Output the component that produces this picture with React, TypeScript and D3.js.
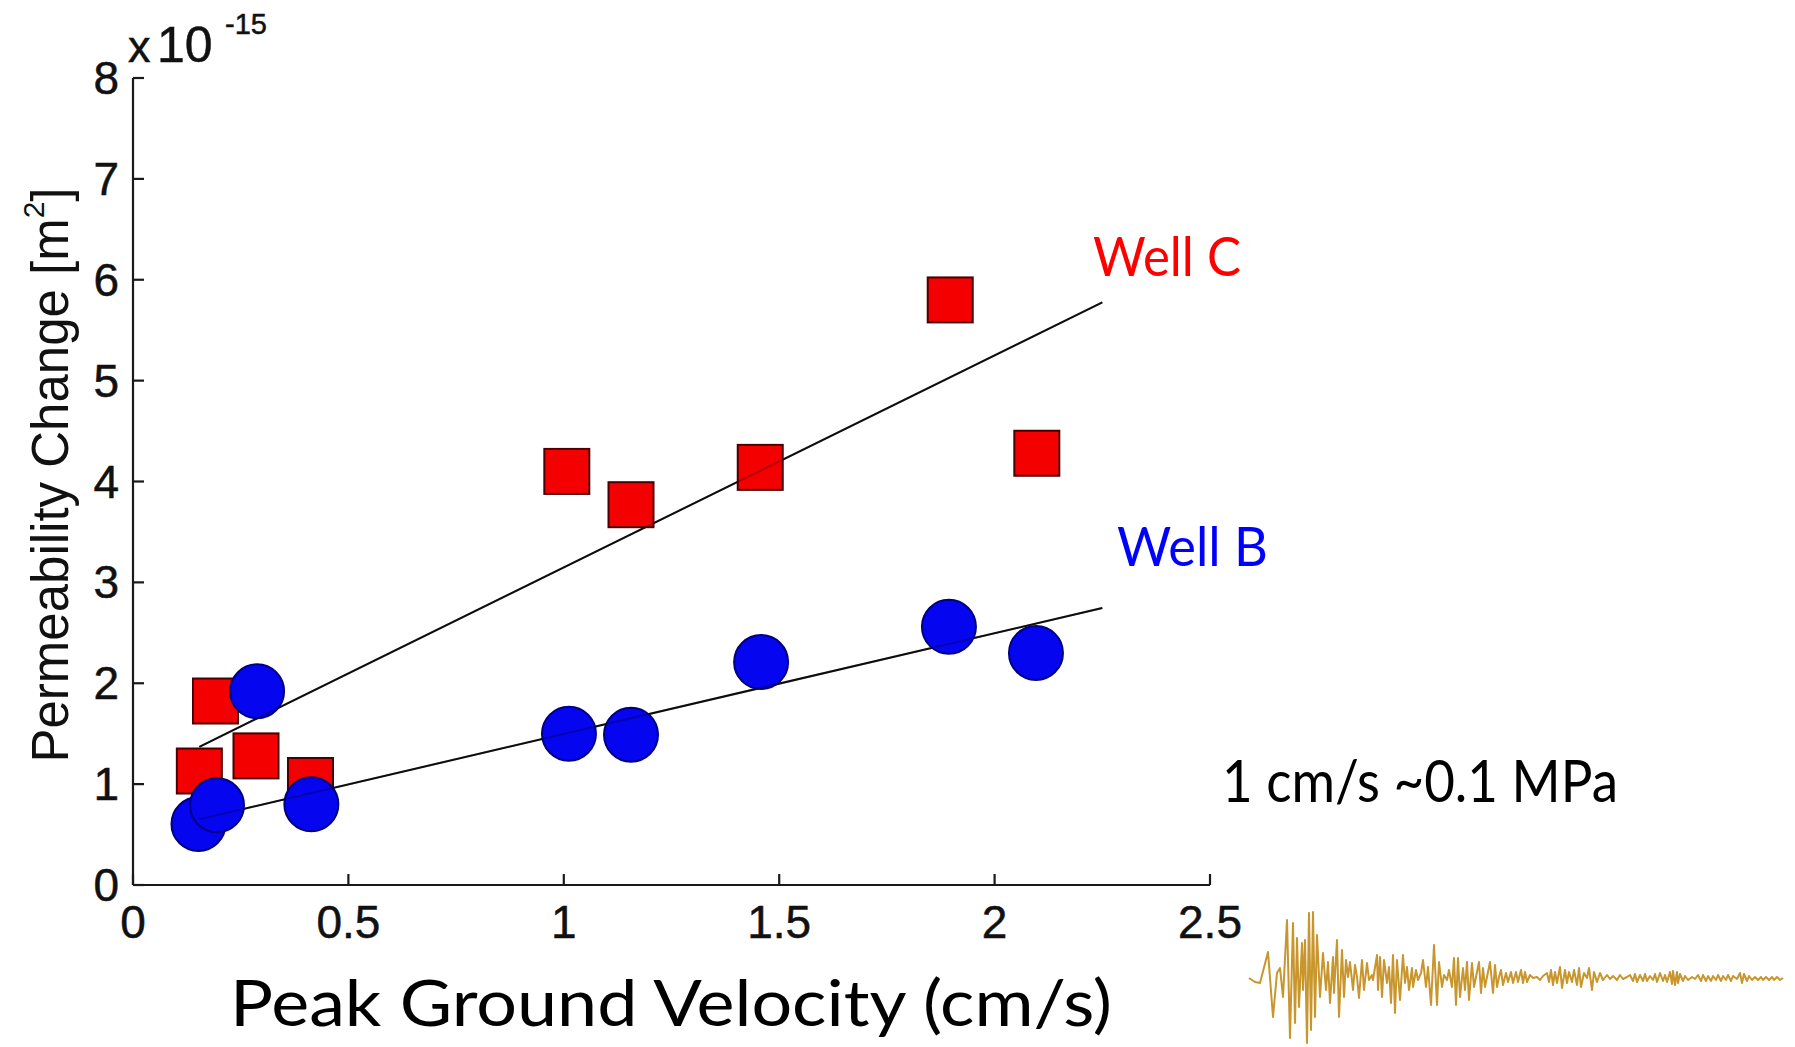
import React from 'react';
import * as d3 from 'd3';

const W = 1795;
const H = 1047;

// Peak ground velocity (cm/s) vs. permeability change (x 1e-15 m^2)
const wellCVelocity = [0.154, 0.1915, 0.2855, 0.412, 1.007, 1.156, 1.456, 1.897, 2.098];
const wellCPermeability = [1.13, 1.824, 1.28, 1.036, 4.1, 3.77, 4.14, 5.8, 4.28];
const wellBVelocity = [0.152, 0.195, 0.288, 0.414, 1.012, 1.156, 1.458, 1.894, 2.096];
const wellBPermeability = [0.605, 0.79, 1.92, 0.8, 1.5, 1.49, 2.21, 2.56, 2.3];

// Least-squares fit lines, end points [velocity, permeability]
const wellCFit: [number, number][] = [[0.154, 1.37], [2.25, 5.776]];
const wellBFit: [number, number][] = [[0.154, 0.652], [2.25, 2.746]];

const xTicks = [0, 0.5, 1, 1.5, 2, 2.5];
const xTickLabels = ['0', '0.5', '1', '1.5', '2', '2.5'];
const yTicks = [0, 1, 2, 3, 4, 5, 6, 7, 8];
const yTickLabels = ['0', '1', '2', '3', '4', '5', '6', '7', '8'];

// Seismogram trace: [sample, amplitude]
const seismogram: [number, number][] = [
  [0, 0], [6, -4], [11, -5], [19, 26], [24, -39], [28, 5], [31, 10], [34, -19], [38, 58], [41, -60],
  [44, 55], [46, -45], [48, 40], [50, -29], [53, 35], [54, -12], [56, 38], [58, -65], [60, 65], [62, -52],
  [64, 66], [66, -39], [68, 43], [71, -19], [74, 25], [77, -12], [79, 16], [81, -25], [84, 21], [85, -15],
  [88, 38], [90, -39], [93, 28], [95, -19], [97, 18], [99, 1], [101, 16], [104, -12], [106, 13], [108, 1],
  [110, -20], [113, 18], [115, -12], [118, 15], [120, -2], [123, 3], [124, -2], [128, 23], [129, -12], [131, 21],
  [133, -19], [135, 18], [138, -5], [140, 11], [142, -25], [144, 23], [146, -35], [148, 18], [151, -22], [154, 23],
  [156, -5], [158, 11], [160, -12], [163, 10], [164, -9], [167, 8], [169, -2], [172, 5], [174, 18], [177, -9],
  [179, 11], [182, -27], [185, 33], [188, -27],
  [190, 16], [193, -9], [195, 3], [198, -2], [200, 8], [203, -9], [205, 20], [207, -27], [209, 20], [211, -19],
  [214, 10], [216, -12], [218, 16], [220, -22], [223, 15], [225, -9], [228, 6], [230, 16], [232, -15], [234, 10],
  [236, -9], [238, 1], [241, 16], [244, -15], [246, 13], [248, -9], [250, 1], [252, 8], [254, -7], [257, 5],
  [259, -4], [262, 6], [264, -5], [267, 6], [269, -4], [272, 8], [274, -5], [276, 6], [278, -4], [281, 3],
  [284, 0], [288, 1], [291, -2], [294, 2], [298, 5], [300, -4], [302, 8], [304, -7], [306, 6], [308, -5],
  [311, 11], [313, -10], [316, 8], [318, -5], [320, 6], [323, -4], [325, 8], [328, -7], [330, 10], [332, -9],
  [335, 5], [338, 0], [340, 10], [343, -12], [345, 6], [348, -4], [351, 5], [354, -2], [358, 3], [361, -1],
  [364, 2], [368, -2], [371, 3], [374, -1], [378, 1],
  [381, 3], [384, -3], [386, 4], [388, -4], [391, 3], [394, -3], [396, 4], [398, -3], [401, 2], [404, -2],
  [406, 4], [408, -4], [411, 5], [414, -3], [416, 3], [418, -4], [421, 6], [423, -6], [424, 7], [426, -7],
  [428, 6], [429, -5], [431, 4], [434, -3], [436, 2], [439, -2], [443, 1], [446, -1], [449, 3], [452, -3],
  [454, 3], [457, -3], [459, 2], [462, -3], [464, 2], [467, -2], [469, 3], [472, -3], [474, 2], [477, -2],
  [479, 3], [482, -3], [484, 2], [488, -1], [491, 5], [493, -5], [495, 4], [498, -3], [500, 2], [503, -2],
  [506, 1], [509, -2], [512, 1], [514, -2], [517, 1], [520, -2], [523, 1], [525, -2], [528, 1], [531, -2],
  [534, 0],
];

const AXIS_FONT = '"Liberation Sans", Arial, Helvetica, sans-serif';
const TEXT_FONT = 'Lato, "Open Sans", sans-serif';

export default function App() {
  const x = d3.scaleLinear().domain([0, 2.5]).range([133, 1210]);
  const y = d3.scaleLinear().domain([0, 8]).range([885, 78]);

  const fitLine = d3
    .line<[number, number]>()
    .x((d) => x(d[0]))
    .y((d) => y(d[1]));

  const sx = d3.scaleLinear().domain([0, 534]).range([1249, 1783]);
  const sy = d3.scaleLinear().domain([-70, 70]).range([1048, 908]);
  const trace = d3
    .line<[number, number]>()
    .x((d) => sx(d[0]))
    .y((d) => sy(d[1]));

  const squareSide = 45;
  const circleR = 27;
  const tickLen = 11;

  return (
    <svg
      width={W}
      height={H}
      viewBox={`0 0 ${W} ${H}`}
      style={{ position: 'absolute', left: 0, top: 0, background: '#fff' }}
    >
      <rect x={0} y={0} width={W} height={H} fill="#fff" />

      {/* axes */}
      <g stroke="#1a1a1a" strokeWidth={2.2} fill="none">
        <line x1={x(0)} y1={y(0)} x2={x(2.5)} y2={y(0)} />
        <line x1={x(0)} y1={y(0)} x2={x(0)} y2={y(8)} />
        {xTicks.map((t) => (
          <line key={`xt${t}`} x1={x(t)} x2={x(t)} y1={y(0)} y2={y(0) - tickLen} />
        ))}
        {yTicks.map((t) => (
          <line key={`yt${t}`} x1={x(0)} x2={x(0) + tickLen} y1={y(t)} y2={y(t)} />
        ))}
      </g>

      <g fontFamily={AXIS_FONT} fontSize={46} fill="#111" stroke="#111" strokeWidth={0.5}>
        {xTicks.map((t, i) => (
          <text key={`xl${t}`} x={x(t)} y={938} textAnchor="middle">
            {xTickLabels[i]}
          </text>
        ))}
        {yTicks.map((t, i) => (
          <text key={`yl${t}`} x={119} y={y(t) + 16} textAnchor="end">
            {yTickLabels[i]}
          </text>
        ))}
        <text x={128} y={62} fontSize={45}>x</text>
        <text x={157} y={62} fontSize={50}>10</text>
        <text x={225} y={34} fontSize={29}>-15</text>
      </g>

      {/* y axis title */}
      <text
        transform="translate(68,475) rotate(-90)"
        textAnchor="middle"
        fontFamily={AXIS_FONT}
        fontSize={51}
        fill="#111"
      >
        Permeability Change [m
        <tspan fontSize={30} dy={-24}>2</tspan>
        <tspan dy={24}>]</tspan>
      </text>

      {/* fit lines beneath markers */}
      <g stroke="#111" strokeWidth={2} fill="none">
        <path d={fitLine(wellCFit) || ''} />
        <path d={fitLine(wellBFit) || ''} />
      </g>

      {/* Well C */}
      <g fill="#f40000" stroke="#4a0000" strokeWidth={2}>
        {wellCVelocity.map((v, i) => (
          <rect
            key={`c${i}`}
            x={x(v) - squareSide / 2}
            y={y(wellCPermeability[i]) - squareSide / 2}
            width={squareSide}
            height={squareSide}
          />
        ))}
      </g>

      {/* Well B */}
      <g fill="#0505f0" stroke="#000080" strokeWidth={2}>
        {wellBVelocity.map((v, i) => (
          <circle key={`b${i}`} cx={x(v)} cy={y(wellBPermeability[i])} r={circleR} />
        ))}
      </g>

      {/* fit lines faintly over markers */}
      <g stroke="#000" strokeWidth={2} fill="none" strokeOpacity={0.25}>
        <path d={fitLine(wellCFit) || ''} />
        <path d={fitLine(wellBFit) || ''} />
      </g>

      {/* annotations */}
      <g fontFamily={TEXT_FONT}>
        <text x={1093} y={276} fontSize={55} fill="#ff0000" textLength={148} lengthAdjust="spacingAndGlyphs">
          Well C
        </text>
        <text x={1117} y={566} fontSize={55} fill="#0000ff" textLength={151} lengthAdjust="spacingAndGlyphs">
          Well B
        </text>
        <text x={1222} y={802} fontSize={58} fill="#000" textLength={396} lengthAdjust="spacingAndGlyphs">
          1 cm/s ~0.1 MPa
        </text>
        <text x={230} y={1026} fontSize={63} fill="#000" textLength={882} lengthAdjust="spacingAndGlyphs">
          Peak Ground Velocity (cm/s)
        </text>
      </g>

      {/* seismogram */}
      <path d={trace(seismogram) || ''} fill="none" stroke="#c8962c" strokeWidth={2} strokeLinejoin="round" />
    </svg>
  );
}
